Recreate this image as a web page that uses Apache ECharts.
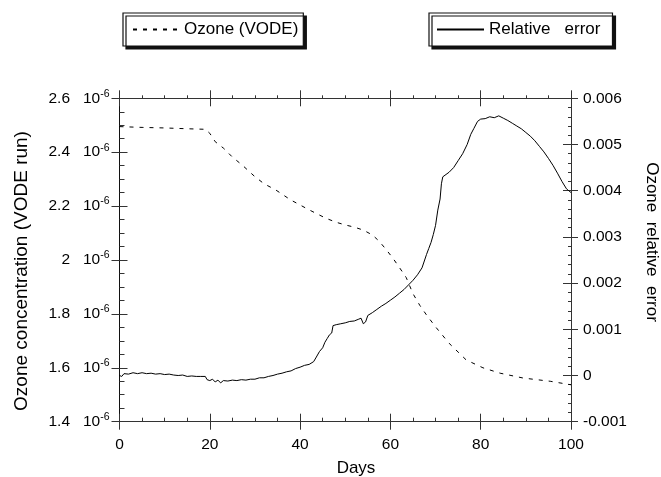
<!DOCTYPE html>
<html><head><meta charset="utf-8">
<script src="https://cdn.jsdelivr.net/npm/echarts@6/dist/echarts.min.js"></script>
<style>html,body{margin:0;padding:0;background:#fff}#c{width:661px;height:477px}</style>
</head><body><div id="c"></div>
<script>
// Ozone concentration (units of 1e-6)
const ozoneDays   = [0,5,10,15,19,20,21.2,23.1,25,27.2,29.8,32,34.6,37.9,42,45.7,48,50,52,54,56,57.5,59,60.5,62,63.5,65,66.5,68,70,73,76.8,80.5,84.3,89.4,95.4,100];
const ozoneValues = [2.495,2.492,2.490,2.487,2.485,2.470,2.439,2.414,2.382,2.352,2.312,2.283,2.260,2.223,2.186,2.155,2.140,2.130,2.122,2.111,2.093,2.070,2.040,2.008,1.972,1.935,1.875,1.832,1.796,1.752,1.691,1.629,1.600,1.580,1.562,1.550,1.537];
// Ozone relative error
const errorDays   = [0,0.5,1,2,3,4,5,6,7,8,9,10,11,12,13,14,15,16,17,18,19,19.4,20,20.6,21.2,21.8,22.4,23,24,25,26,27,28,29,30,31,32,33,34,35,36,37,38,39,40,41,42,43,43.6,44.3,45,45.5,46,46.5,47,47.3,48,49,50,51,52,53,53.5,54,54.5,55,56,57,58,59,60,61,62,63,64,65,66,67,68,68.5,69,69.5,70,70.5,71,71.3,71.6,72,73,74,75,76,77,77.8,78.5,79.3,80,81,82,83,84,85,86,87,88,89,90,91,92,93,94,95,96,97,98,99,100];
const errorValues = [0,-0.00002,0.00004,0.00003,0.00006,0.00004,0.00006,0.00004,0.00005,0.00003,0.00004,0.00002,0.00003,0.00001,0,0.00001,-0.00002,-0.00001,-0.00002,-0.00002,-0.00002,-0.00009,-0.00011,-0.00008,-0.00014,-0.00010,-0.00016,-0.00011,-0.00012,-0.00010,-0.00011,-0.00009,-0.00010,-0.00008,-0.00008,-0.00005,-0.00005,-0.00002,0,0.00003,0.00005,0.00008,0.00010,0.00015,0.00018,0.00022,0.00024,0.00030,0.00040,0.00052,0.00060,0.00072,0.00080,0.00088,0.00092,0.00108,0.00110,0.00112,0.00114,0.00117,0.00118,0.00122,0.00124,0.00112,0.00116,0.00130,0.00136,0.00143,0.00150,0.00156,0.00163,0.00170,0.00178,0.00186,0.00196,0.00206,0.00218,0.00233,0.00262,0.00275,0.00288,0.00305,0.00325,0.00358,0.00382,0.00415,0.00430,0.00432,0.00440,0.00450,0.00465,0.00480,0.00500,0.00522,0.00535,0.00550,0.00555,0.00556,0.00560,0.00558,0.00562,0.00557,0.00552,0.00546,0.00540,0.00534,0.00526,0.00518,0.00508,0.00496,0.00484,0.00470,0.00455,0.00438,0.00420,0.00404,0.00396];
// tick labels
const dayTickLabels   = ['0','20','40','60','80','100'];
const leftTickLabels  = ['1.4','1.6','1.8','2','2.2','2.4','2.6'];
const rightTickLabels = ['-0.001','0','0.001','0.002','0.003','0.004','0.005','0.006'];

const FONT = '"Liberation Sans", Arial, Helvetica, sans-serif';
const AX = '#333';
const chart = echarts.init(document.getElementById('c'), null, {renderer: 'canvas'});

function xAx(pos, opts) {
  return Object.assign({
    type: 'value', position: pos, min: 0, max: 100, interval: 20,
    axisLine: {show: false, onZero: false, lineStyle: {color: AX, width: 1}},
    axisTick: {show: true, inside: true, length: 8, lineStyle: {color: AX, width: 1}},
    minorTick: {show: false},
    axisLabel: {show: false},
    splitLine: {show: false}
  }, opts);
}
function yAx(pos, min, max, interval, opts) {
  return Object.assign({
    type: 'value', position: pos, min: min, max: max, interval: interval,
    axisLine: {show: false, onZero: false, lineStyle: {color: AX, width: 1}},
    axisTick: {show: true, inside: true, length: 8, lineStyle: {color: AX, width: 1}},
    minorTick: {show: false},
    axisLabel: {show: false},
    splitLine: {show: false}
  }, opts);
}
const legendCommon = {
  itemHeight: 14, itemGap: 0, backgroundColor: '#fff', borderColor: '#111', borderWidth: 1.2,
  shadowColor: '#111', shadowBlur: 0, shadowOffsetX: 3, shadowOffsetY: 3,
  itemStyle: {color: 'rgba(0,0,0,0)', borderWidth: 0, opacity: 0},
  textStyle: {fontFamily: FONT, fontSize: 17, color: '#000'}, selectedMode: false
};

const option = {
  animation: false,
  backgroundColor: '#fff',
  grid: {left: 119.5, right: 90, top: 98.3, bottom: 55.3, containLabel: false, outerBoundsMode: 'none'},
  legend: [
    Object.assign({data: ['Ozone (VODE)'], left: 123, top: 13, itemWidth: 46, padding: [8, 5, 8, 9]}, legendCommon),
    Object.assign({data: ['Relative   error'], left: 429, top: 13, itemWidth: 47, padding: [8, 12, 8, 7]}, legendCommon)
  ],
  xAxis: [
    xAx('bottom', {
      axisLine: {show: true, onZero: false, lineStyle: {color: AX, width: 1}},
      minorTick: {show: true, splitNumber: 4, length: 4, lineStyle: {color: AX, width: 1}},
      axisLabel: {show: true, margin: 15, fontFamily: FONT, fontSize: 15.5, color: '#000',
        formatter: v => dayTickLabels[Math.round(v / 20)]}
    }),
    xAx('bottom', {axisTick: {show: true, inside: false, length: 8, lineStyle: {color: AX, width: 1}}}),
    xAx('top', {axisLine: {show: true, onZero: false, lineStyle: {color: AX, width: 1}}}),
    xAx('top', {
      axisTick: {show: true, inside: false, length: 8, lineStyle: {color: AX, width: 1}},
      minorTick: {show: true, splitNumber: 4, length: 3, lineStyle: {color: AX, width: 1}}
    })
  ],
  yAxis: [
    yAx('left', 1.4, 2.6, 0.2, {
      axisLine: {show: true, onZero: false, lineStyle: {color: '#111', width: 1}},
      minorTick: {show: true, splitNumber: 4, length: 5, lineStyle: {color: AX, width: 1}},
      axisLabel: {show: true, margin: 10,
        formatter: v => '{n|' + leftTickLabels[Math.round((v - 1.4) / 0.2)] + '   10}{s|-6}',
        rich: {
          n: {fontFamily: FONT, fontSize: 15.5, color: '#000', lineHeight: 20},
          s: {fontFamily: FONT, fontSize: 10.5, color: '#000', lineHeight: 11, verticalAlign: 'top'}
        }
      }
    }),
    yAx('right', -0.001, 0.006, 0.001, {
      axisLine: {show: true, onZero: false, lineStyle: {color: AX, width: 1}},
      minorTick: {show: true, splitNumber: 5, length: 3, lineStyle: {color: AX, width: 1}},
      axisLabel: {show: true, margin: 12, fontFamily: FONT, fontSize: 15.5, color: '#000',
        formatter: v => rightTickLabels[Math.round((v + 0.001) / 0.001)]}
    }),
    yAx('left', 1.4, 2.6, 0.2, {axisTick: {show: true, inside: false, length: 8, lineStyle: {color: AX, width: 1}}}),
    yAx('right', -0.001, 0.006, 0.001, {axisTick: {show: true, inside: false, length: 7, lineStyle: {color: AX, width: 1}}})
  ],
  graphic: [
    {type: 'text', x: 22, y: 271, rotation: Math.PI / 2, z: 10,
      style: {text: 'Ozone concentration (VODE run)', font: '19px ' + FONT, fill: '#000', textAlign: 'center', textVerticalAlign: 'middle'}},
    {type: 'text', x: 652, y: 242, rotation: -Math.PI / 2, z: 10,
      style: {text: 'Ozone  relative  error', font: '17px ' + FONT, fill: '#000', textAlign: 'center', textVerticalAlign: 'middle'}},
    {type: 'text', x: 356, y: 468, z: 10,
      style: {text: 'Days', font: '17px ' + FONT, fill: '#000', textAlign: 'center', textVerticalAlign: 'middle'}}
  ],
  series: [
    {
      name: 'Ozone (VODE)', type: 'line', xAxisIndex: 0, yAxisIndex: 0,
      data: ozoneDays.map((d, i) => [d, ozoneValues[i]]),
      symbol: 'none', showSymbol: false, smooth: false,
      lineStyle: {color: '#000', width: 1, type: [4, 6]}, itemStyle: {color: '#000'}
    },
    {
      name: 'Relative   error', type: 'line', xAxisIndex: 0, yAxisIndex: 1,
      data: errorDays.map((d, i) => [d, errorValues[i]]),
      symbol: 'none', showSymbol: false, smooth: false,
      lineStyle: {color: '#000', width: 1, type: 'solid'}, itemStyle: {color: '#000'}
    }
  ]
};
chart.setOption(option);
</script>
</body></html>
